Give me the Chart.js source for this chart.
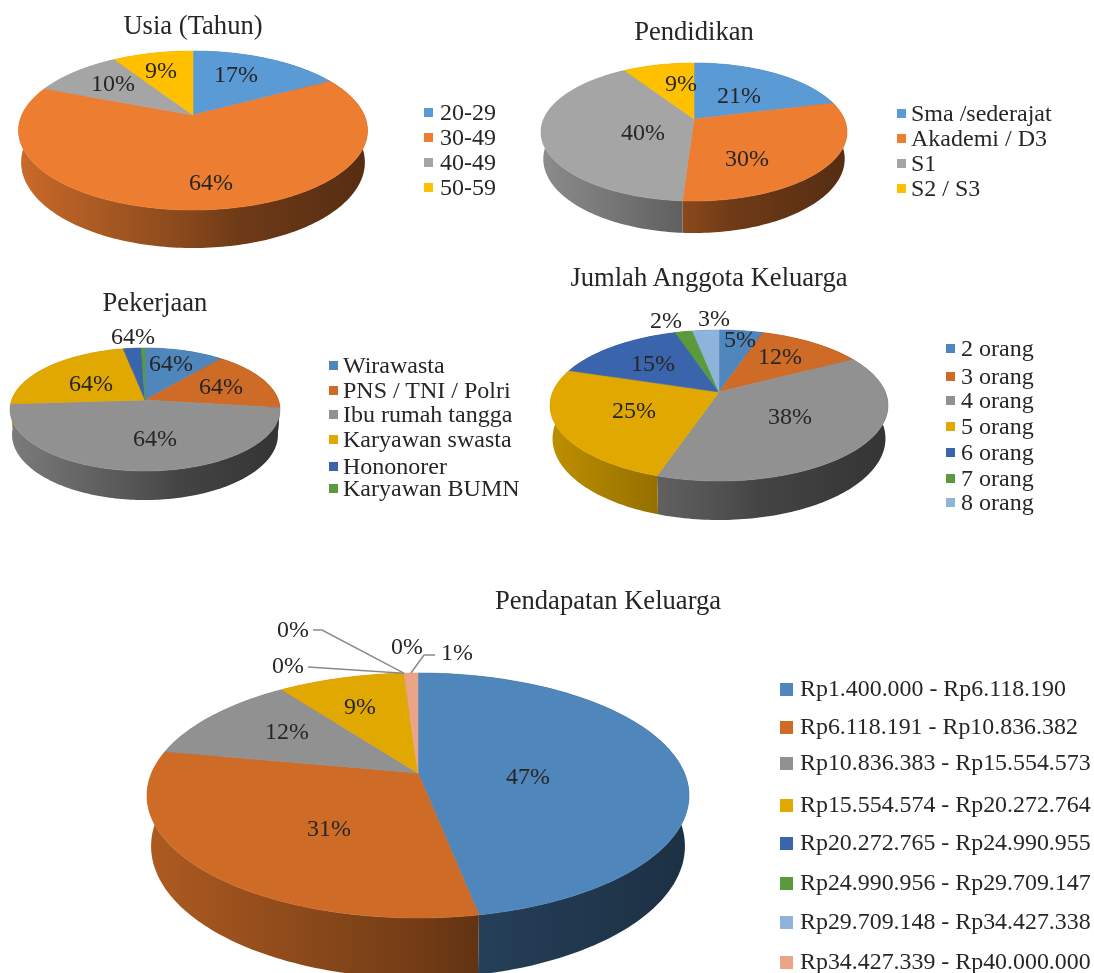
<!DOCTYPE html>
<html>
<head>
<meta charset="utf-8">
<title>Karakteristik Responden</title>
<script src="https://cdn.jsdelivr.net/npm/chart.js@4"></script>
<style>
html,body{margin:0;padding:0;background:#fff;}
#page{position:relative;width:1094px;height:973px;overflow:hidden;font-family:"Liberation Serif",serif;color:#262626;}
canvas{position:absolute;left:0;top:0;}
.title,.item{position:absolute;white-space:nowrap;line-height:1;transform:translateY(-50%);}
.title{transform:translate(-50%,-50%);}
.box{position:absolute;}
</style>
</head>
<body>
<div id="page"></div>
<script>
// Share of respondents per group, in percent
const usiaLabels = ["20-29","30-49","40-49","50-59"];
const usiaValues = [17,64,10,9];

const pendidikanLabels = ["Sma /sederajat","Akademi / D3","S1","S2 / S3"];
const pendidikanValues = [21,30,40,9];

const pekerjaanLabels = ["Wirawasta","PNS / TNI / Polri","Ibu rumah tangga","Karyawan swasta","Hononorer","Karyawan BUMN"];
const pekerjaanValues = [11,16,47,23,2.5,0.5];
const pekerjaanPrinted = ["64%","64%","64%","64%","64%",""];

const keluargaLabels = ["2 orang","3 orang","4 orang","5 orang","6 orang","7 orang","8 orang"];
const keluargaValues = [5,12,38,25,15,2,3];

const pendapatanLabels = ["Rp1.400.000 - Rp6.118.190","Rp6.118.191 - Rp10.836.382","Rp10.836.383 - Rp15.554.573","Rp15.554.574 - Rp20.272.764","Rp20.272.765 - Rp24.990.955","Rp24.990.956 - Rp29.709.147","Rp29.709.148 - Rp34.427.338","Rp34.427.339 - Rp40.000.000"];
const pendapatanValues = [47,31,12,9,0,0,0,1];

const office = ["#5b9bd5","#ed7d31","#a5a5a5","#ffc000"];
const muted = ["#4f86bb","#cd6b27","#919191","#e0a800","#3a64ab","#5b9a3c","#8fb4dc","#eaa488"];

const charts = [
  {title:"Usia (Tahun)", titleAt:[193,25], labels:usiaLabels, values:usiaValues, colors:office,
   left:19, right:368, top:51, bottom:210, apexX:193, apexY:115, wall:248,
   textAt:[[236,76],[211,184],[113,85],[161,72]],
   boxX:424, boxSize:9, textX:440, rows:[112,137,162,187], fontSize:24},
  {title:"Pendidikan", titleAt:[694,31], labels:pendidikanLabels, values:pendidikanValues, colors:office,
   left:541, right:847, top:63, bottom:201, apexX:694, apexY:119, wall:233,
   textAt:[[739,97],[747,160],[643,134],[681,85]],
   boxX:897, boxSize:9, textX:911, rows:[113,138,163,188], fontSize:24},
  {title:"Pekerjaan", titleAt:[155,302], labels:pekerjaanLabels, values:pekerjaanValues, colors:muted.slice(0,6), printed:pekerjaanPrinted,
   left:11, right:281, top:348, bottom:471, apexX:145, apexY:400, wall:500,
   textAt:[[171,365],[221,388],[155,440],[91,385],[133,338],[0,0]],
   boxX:329, boxSize:9, textX:343, rows:[365,390,414,439,466,488], fontSize:24},
  {title:"Jumlah Anggota Keluarga", titleAt:[709,277], labels:keluargaLabels, values:keluargaValues, colors:muted.slice(0,7),
   left:550, right:888, top:330, bottom:481, apexX:719, apexY:392, wall:520,
   textAt:[[740,341],[780,358],[790,418],[634,412],[653,365],[666,322],[714,320]],
   boxX:946, boxSize:9, textX:961, rows:[348,376,400,426,452,478,502], fontSize:24},
  {title:"Pendapatan Keluarga", titleAt:[608,600], labels:pendapatanLabels, values:pendapatanValues, colors:muted,
   left:147, right:689, top:673, bottom:918, apexX:418, apexY:773, wall:978,
   textAt:[[528,778],[329,830],[287,733],[360,708],[288,667],[293,631],[407,648],[457,654]],
   leaders:[{slice:4,path:[[308,667]]},{slice:5,path:[[313,630],[322,630]]},{slice:7,path:[[435,655],[424,655]]}],
   boxX:780, boxSize:13, textX:800, rows:[689,727,763,805,843,883,922,962], fontSize:23.9}
];

// Tilted disc: a circle seen in perspective, so the hub sits above the middle of the ellipse
function tilt(c){
  const up = c.apexY-c.top, down = c.bottom-c.apexY;
  const p = (down-up)/(down+up);
  return {p:p, b:up*(1+p), a:(c.right-c.left)/2*Math.sqrt(1-p*p), d:(c.wall-c.bottom)*(1-p)};
}

function rim(c,t,angle){
  const X = Math.cos(angle), Y = Math.sin(angle), w = 1-t.p*Y;
  return {x:c.apexX+t.a*X/w, y:c.apexY+t.b*Y/w, drop:t.d/w};
}

function shade(hex,m){
  const n = parseInt(hex.slice(1),16);
  return "rgb("+Math.round((n>>16)*m)+","+Math.round(((n>>8)&255)*m)+","+Math.round((n&255)*m)+")";
}

function angleSteps(start,end){
  const n = Math.max(2,Math.ceil((end-start)/0.02));
  const out = [];
  for(let i=0;i<=n;i++) out.push(start+(end-start)*i/n);
  return out;
}

// Draws the chart's arcs as a solid tilted pie, using the angles the pie controller computed
const pie3d = {
  id:"pie3d",
  beforeDatasetsDraw(chart){
    const c = chart.options.plugins.pie3d.view, t = tilt(c), ctx = chart.ctx;
    const arcs = chart.getDatasetMeta(0).data;
    const shrink = 0.985;

    arcs.forEach((arc,i)=>{
      if(arc.endAngle-arc.startAngle<=0) return;
      const g = ctx.createLinearGradient(c.left,0,c.right,0);
      g.addColorStop(0,shade(c.colors[i],0.85));
      g.addColorStop(0.5,shade(c.colors[i],0.56));
      g.addColorStop(0.62,shade(c.colors[i],0.47));
      g.addColorStop(1,shade(c.colors[i],0.36));
      const steps = angleSteps(arc.startAngle,arc.endAngle);
      ctx.beginPath();
      steps.forEach((a,k)=>{
        const r = rim(c,t,a);
        k ? ctx.lineTo(r.x,r.y) : ctx.moveTo(r.x,r.y);
      });
      steps.slice().reverse().forEach(a=>{
        const r = rim(c,t,a);
        ctx.lineTo(c.apexX+(r.x-c.apexX)*shrink,r.y+r.drop);
      });
      ctx.closePath();
      ctx.fillStyle = g;
      ctx.fill();
    });

    arcs.forEach((arc,i)=>{
      if(arc.endAngle-arc.startAngle<=0) return;
      ctx.beginPath();
      ctx.moveTo(c.apexX,c.apexY);
      angleSteps(arc.startAngle,arc.endAngle).forEach(a=>{
        const r = rim(c,t,a);
        ctx.lineTo(r.x,r.y);
      });
      ctx.closePath();
      ctx.fillStyle = c.colors[i];
      ctx.strokeStyle = c.colors[i];
      ctx.lineWidth = 0.6;
      ctx.fill();
      ctx.stroke();
    });
    return false;
  },
  afterDraw(chart){
    const c = chart.options.plugins.pie3d.view, t = tilt(c), ctx = chart.ctx;
    const arcs = chart.getDatasetMeta(0).data;

    (c.leaders||[]).forEach(l=>{
      const arc = arcs[l.slice];
      const end = rim(c,t,(arc.startAngle+arc.endAngle)/2);
      ctx.beginPath();
      l.path.forEach((pt,k)=>{ k ? ctx.lineTo(pt[0],pt[1]) : ctx.moveTo(pt[0],pt[1]); });
      ctx.lineTo(end.x,end.y);
      ctx.strokeStyle = "#8a8a8a";
      ctx.lineWidth = 1.5;
      ctx.stroke();
    });

    ctx.font = c.fontSize+'px "Liberation Serif"';
    ctx.fillStyle = "#262626";
    ctx.textAlign = "center";
    ctx.textBaseline = "middle";
    c.values.forEach((v,i)=>{
      const text = c.printed ? c.printed[i] : v+"%";
      if(text) ctx.fillText(text,c.textAt[i][0],c.textAt[i][1]);
    });
  }
};

const page = document.getElementById("page");

function addText(cls,text,x,y,size){
  const el = document.createElement("div");
  el.className = cls;
  el.textContent = text;
  el.style.left = x+"px";
  el.style.top = y+"px";
  el.style.fontSize = size+"px";
  page.appendChild(el);
}

charts.forEach(c=>{
  const canvas = document.createElement("canvas");
  canvas.width = 1094;
  canvas.height = 973;
  page.appendChild(canvas);

  new Chart(canvas,{
    type:"pie",
    data:{labels:c.labels,datasets:[{data:c.values,backgroundColor:c.colors}]},
    options:{
      responsive:false,
      animation:false,
      plugins:{legend:{display:false},tooltip:{enabled:false},pie3d:{view:c}}
    },
    plugins:[pie3d]
  });

  addText("title",c.title,c.titleAt[0],c.titleAt[1],26.6);

  // Legend rows
  c.labels.forEach((name,i)=>{
    const box = document.createElement("div");
    box.className = "box";
    box.style.left = c.boxX+"px";
    box.style.top = (c.rows[i]-c.boxSize/2)+"px";
    box.style.width = c.boxSize+"px";
    box.style.height = c.boxSize+"px";
    box.style.background = c.colors[i];
    page.appendChild(box);
    addText("item",name,c.textX,c.rows[i],c.fontSize);
  });
});
</script>
</body>
</html>
